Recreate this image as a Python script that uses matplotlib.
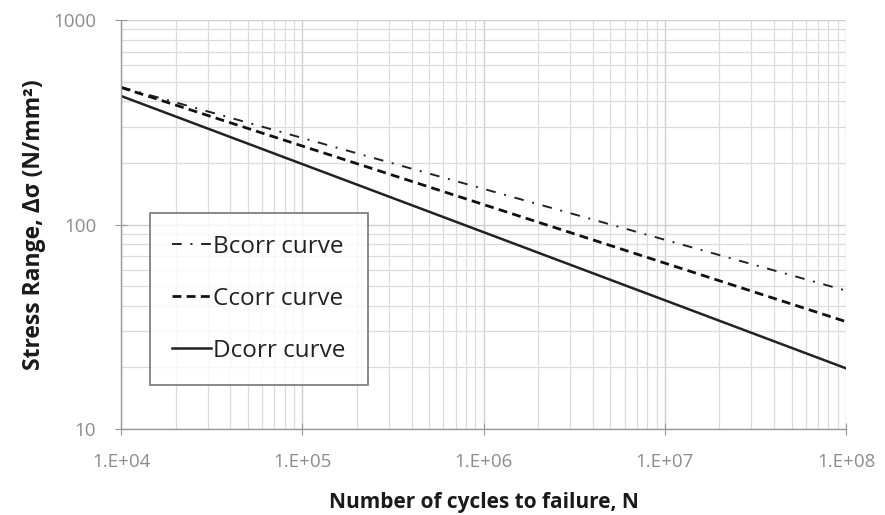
import matplotlib
matplotlib.use("Agg")
import matplotlib.pyplot as plt
from matplotlib.ticker import LogLocator, FixedLocator, FixedFormatter, NullFormatter

# Data
cycles = [1e4, 1e8]
bcorr = [470, 47.5]
ccorr = [468, 33.5]
dcorr = [425, 19.8]
xticks = [1e4, 1e5, 1e6, 1e7, 1e8]
xticklabels = ["1.E+04", "1.E+05", "1.E+06", "1.E+07", "1.E+08"]
yticks = [10, 100, 1000]
yticklabels = ["10", "100", "1000"]

plt.rcParams['font.family'] = ['Open Sans', 'DejaVu Sans']

fig = plt.figure(figsize=(8.85, 5.15), dpi=100)
ax = fig.add_axes([0.137, 0.167, 0.819, 0.794])
ax.set_xscale('log')
ax.set_yscale('log')
ax.set_xlim(1e4, 1e8)
ax.set_ylim(10, 1000)

ax.plot(cycles, bcorr, color='#222222', lw=1.4, linestyle=(0, (5, 4.5, 1, 4.5)), label='Bcorr curve')
ax.plot(cycles, ccorr, color='#111111', lw=2.0, linestyle=(0, (3.2, 1.9)), label='Ccorr curve')
ax.plot(cycles, dcorr, color='#222222', lw=1.8, linestyle='-', label='Dcorr curve')

ax.xaxis.set_major_locator(FixedLocator(xticks))
ax.xaxis.set_major_formatter(FixedFormatter(xticklabels))
ax.yaxis.set_major_locator(FixedLocator(yticks))
ax.yaxis.set_major_formatter(FixedFormatter(yticklabels))
ax.xaxis.set_minor_locator(LogLocator(base=10, subs=range(2, 10)))
ax.yaxis.set_minor_locator(LogLocator(base=10, subs=range(2, 10)))
ax.xaxis.set_minor_formatter(NullFormatter())
ax.yaxis.set_minor_formatter(NullFormatter())

ax.grid(True, which='major', color='#cfcfcf', lw=1.0)
ax.grid(True, which='minor', color='#dcdcdc', lw=0.9)
ax.set_axisbelow(True)

for s in ['top', 'right']:
    ax.spines[s].set_visible(False)
for s in ['left', 'bottom']:
    ax.spines[s].set_color('#999999')
    ax.spines[s].set_linewidth(1.0)

ax.tick_params(axis='both', which='major', direction='inout', length=8, color='#999999',
               labelsize=13.5, labelcolor='#8c8c8c')
ax.tick_params(axis='x', which='major', pad=13)
ax.tick_params(axis='y', which='major', pad=14)
ax.tick_params(axis='both', which='minor', length=0)

ax.set_xlabel('Number of cycles to failure, N', fontsize=15, fontweight='bold', color='#1a1a1a')
ax.set_ylabel('Stress Range, Δσ (N/mm²)', fontsize=16.5, fontweight='bold', color='#1a1a1a')
ax.xaxis.set_label_coords(0.5, -0.155)
ax.yaxis.set_label_coords(-0.104, 0.5)

leg = ax.legend(loc='upper left', bbox_to_anchor=(0.04, 0.528), fontsize=17.5, frameon=True,
                fancybox=False, edgecolor='#555555', labelspacing=1.15, handlelength=1.6,
                handletextpad=0.1, borderpad=0.9, borderaxespad=0)
leg.get_frame().set_linewidth(1.2)
for t in leg.get_texts():
    t.set_color('#222222')

fig.savefig('out.png', dpi=100, facecolor='white')
